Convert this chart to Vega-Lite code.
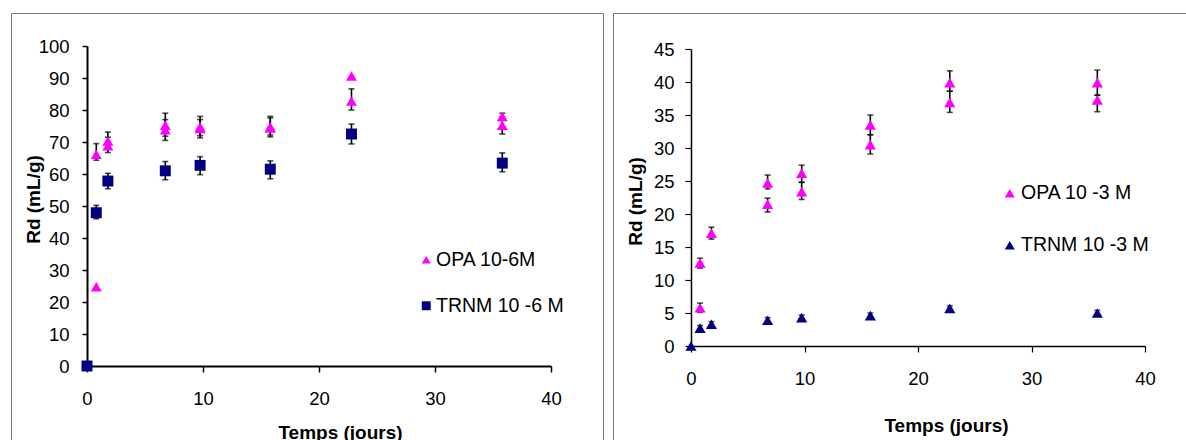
{
  "$schema": "https://vega.github.io/schema/vega-lite/v6.json",
  "padding": {"left": 10, "top": 12, "right": 0, "bottom": 0},
  "background": "white",
  "spacing": 8,
  "config": {
    "view": {"stroke": "#7a7a7a", "strokeWidth": 1},
    "font": "Liberation Sans",
    "axis": {"grid": false, "labelFlush": false, "labelOverlap": false, "domainColor": "black", "tickColor": "black", "labelColor": "black", "titleColor": "black", "labelFont": "Liberation Sans", "titleFont": "Liberation Sans", "labelFontSize": 18.5, "titleFontSize": 19, "titleFontWeight": "bold"},
    "legend": {"labelFont": "Liberation Sans", "labelFontSize": 19.5, "labelColor": "black", "padding": 0, "symbolStrokeWidth": 0}
  },
  "resolve": {"scale": {"x": "independent", "y": "independent", "color": "independent", "shape": "independent"}, "legend": {"color": "independent", "shape": "independent"}},
  "datasets": {
    "d": [
      {"panel": "L", "series": "OPA 10-6M", "x": 0.8, "y": 24.8, "lo": null, "hi": null},
      {"panel": "L", "series": "OPA 10-6M", "x": 0.8, "y": 66.2, "lo": 64.3, "hi": 69.5},
      {"panel": "L", "series": "OPA 10-6M", "x": 1.8, "y": 70.3, "lo": 68.0, "hi": 73.1},
      {"panel": "L", "series": "OPA 10-6M", "x": 1.8, "y": 68.8, "lo": 66.7, "hi": 71.5},
      {"panel": "L", "series": "OPA 10-6M", "x": 6.75, "y": 75.2, "lo": 71.8, "hi": 79.0},
      {"panel": "L", "series": "OPA 10-6M", "x": 6.75, "y": 73.8, "lo": 70.5, "hi": 77.0},
      {"panel": "L", "series": "OPA 10-6M", "x": 9.75, "y": 74.8, "lo": 72.0, "hi": 78.0},
      {"panel": "L", "series": "OPA 10-6M", "x": 9.75, "y": 74.2, "lo": 71.3, "hi": 77.0},
      {"panel": "L", "series": "OPA 10-6M", "x": 15.8, "y": 74.8, "lo": 72.2, "hi": 78.0},
      {"panel": "L", "series": "OPA 10-6M", "x": 15.8, "y": 74.4, "lo": 71.6, "hi": 77.5},
      {"panel": "L", "series": "OPA 10-6M", "x": 22.8, "y": 90.6, "lo": null, "hi": null},
      {"panel": "L", "series": "OPA 10-6M", "x": 22.8, "y": 82.8, "lo": 80.0, "hi": 86.6},
      {"panel": "L", "series": "OPA 10-6M", "x": 35.8, "y": 78.0, "lo": 77.0, "hi": 79.0},
      {"panel": "L", "series": "OPA 10-6M", "x": 35.8, "y": 75.2, "lo": 72.5, "hi": 77.8},
      {"panel": "L", "series": "TRNM 10 -6 M", "x": 0, "y": 0, "lo": null, "hi": null},
      {"panel": "L", "series": "TRNM 10 -6 M", "x": 0.8, "y": 47.9, "lo": 46.0, "hi": 50.2},
      {"panel": "L", "series": "TRNM 10 -6 M", "x": 1.8, "y": 57.8, "lo": 55.4, "hi": 60.2},
      {"panel": "L", "series": "TRNM 10 -6 M", "x": 6.75, "y": 61.0, "lo": 58.2, "hi": 63.9},
      {"panel": "L", "series": "TRNM 10 -6 M", "x": 9.75, "y": 62.7, "lo": 59.8, "hi": 65.4},
      {"panel": "L", "series": "TRNM 10 -6 M", "x": 15.8, "y": 61.5, "lo": 58.5, "hi": 64.1},
      {"panel": "L", "series": "TRNM 10 -6 M", "x": 22.8, "y": 72.5, "lo": 69.4, "hi": 75.6},
      {"panel": "L", "series": "TRNM 10 -6 M", "x": 35.8, "y": 63.4, "lo": 60.7, "hi": 66.6},
      {"panel": "R", "series": "OPA 10 -3 M", "x": 0.8, "y": 12.6, "lo": 11.8, "hi": 13.3},
      {"panel": "R", "series": "OPA 10 -3 M", "x": 0.8, "y": 5.8, "lo": 5.1, "hi": 6.5},
      {"panel": "R", "series": "OPA 10 -3 M", "x": 1.8, "y": 17.1, "lo": 16.2, "hi": 18.0},
      {"panel": "R", "series": "OPA 10 -3 M", "x": 6.75, "y": 24.7, "lo": 23.8, "hi": 25.9},
      {"panel": "R", "series": "OPA 10 -3 M", "x": 6.75, "y": 21.5, "lo": 20.3, "hi": 22.4},
      {"panel": "R", "series": "OPA 10 -3 M", "x": 9.75, "y": 26.2, "lo": 24.8, "hi": 27.4},
      {"panel": "R", "series": "OPA 10 -3 M", "x": 9.75, "y": 23.4, "lo": 22.2, "hi": 24.8},
      {"panel": "R", "series": "OPA 10 -3 M", "x": 15.8, "y": 33.5, "lo": 32.0, "hi": 35.0},
      {"panel": "R", "series": "OPA 10 -3 M", "x": 15.8, "y": 30.5, "lo": 29.1, "hi": 32.0},
      {"panel": "R", "series": "OPA 10 -3 M", "x": 22.8, "y": 39.9, "lo": 38.6, "hi": 41.7},
      {"panel": "R", "series": "OPA 10 -3 M", "x": 22.8, "y": 36.9, "lo": 35.4, "hi": 38.6},
      {"panel": "R", "series": "OPA 10 -3 M", "x": 35.8, "y": 39.9, "lo": 38.0, "hi": 41.8},
      {"panel": "R", "series": "OPA 10 -3 M", "x": 35.8, "y": 37.3, "lo": 35.5, "hi": 38.0},
      {"panel": "R", "series": "TRNM 10 -3 M", "x": 0, "y": 0, "lo": null, "hi": null},
      {"panel": "R", "series": "TRNM 10 -3 M", "x": 0.8, "y": 2.7, "lo": 2.3, "hi": 3.1},
      {"panel": "R", "series": "TRNM 10 -3 M", "x": 1.8, "y": 3.3, "lo": 2.9, "hi": 3.7},
      {"panel": "R", "series": "TRNM 10 -3 M", "x": 6.75, "y": 3.9, "lo": 3.5, "hi": 4.3},
      {"panel": "R", "series": "TRNM 10 -3 M", "x": 9.75, "y": 4.3, "lo": 3.9, "hi": 4.7},
      {"panel": "R", "series": "TRNM 10 -3 M", "x": 15.8, "y": 4.6, "lo": 4.2, "hi": 5.0},
      {"panel": "R", "series": "TRNM 10 -3 M", "x": 22.8, "y": 5.7, "lo": 5.3, "hi": 6.1},
      {"panel": "R", "series": "TRNM 10 -3 M", "x": 35.8, "y": 5.0, "lo": 4.6, "hi": 5.4}
    ]
  },
  "hconcat": [
    {
      "width": 592,
      "height": 440,
      "data": {"name": "d"},
      "transform": [{"filter": "datum.panel === 'L'"}],
      "encoding": {
        "x": {"field": "x", "type": "quantitative", "title": "Temps (jours)",
          "scale": {"domain": [0, 40], "range": [76, 540], "nice": false, "zero": false},
          "axis": {"values": [0, 10, 20, 30, 40], "offset": -87, "domainWidth": 2, "tickWidth": 1.5, "tickSize": 6, "labelPadding": 17, "titleX": 329, "titleY": 57, "titleBaseline": "top"}}
      },
      "layer": [
        {
          "transform": [{"filter": "datum.lo != null"}],
          "mark": {"type": "rule", "color": "black", "strokeWidth": 1.6},
          "encoding": {
            "y": {"field": "lo", "type": "quantitative", "title": "Rd (mL/g)",
              "scale": {"domain": [0, 100], "range": [353, 33], "nice": false, "zero": false},
              "axis": {"values": [0, 10, 20, 30, 40, 50, 60, 70, 80, 90, 100], "offset": -76, "domainWidth": 2, "tickWidth": 1.5, "tickSize": 5, "labelPadding": 13, "titleX": -44, "titleY": 186}},
            "y2": {"field": "hi"}
          }
        },
        {
          "transform": [{"filter": "datum.lo != null"}],
          "mark": {"type": "tick", "orient": "horizontal", "color": "black", "size": 6, "thickness": 1.6},
          "encoding": {
            "y": {"field": "lo", "type": "quantitative", "title": "Rd (mL/g)",
              "scale": {"domain": [0, 100], "range": [353, 33], "nice": false, "zero": false},
              "axis": {"values": [0, 10, 20, 30, 40, 50, 60, 70, 80, 90, 100], "offset": -76, "domainWidth": 2, "tickWidth": 1.5, "tickSize": 5, "labelPadding": 13, "titleX": -44, "titleY": 186}}
          }
        },
        {
          "transform": [{"filter": "datum.lo != null"}],
          "mark": {"type": "tick", "orient": "horizontal", "color": "black", "size": 6, "thickness": 1.6},
          "encoding": {
            "y": {"field": "hi", "type": "quantitative", "title": "Rd (mL/g)",
              "scale": {"domain": [0, 100], "range": [353, 33], "nice": false, "zero": false},
              "axis": {"values": [0, 10, 20, 30, 40, 50, 60, 70, 80, 90, 100], "offset": -76, "domainWidth": 2, "tickWidth": 1.5, "tickSize": 5, "labelPadding": 13, "titleX": -44, "titleY": 186}}
          }
        },
        {
          "mark": {"type": "point", "filled": true, "opacity": 1, "size": 120},
          "encoding": {
            "y": {"field": "y", "type": "quantitative", "title": "Rd (mL/g)",
              "scale": {"domain": [0, 100], "range": [353, 33], "nice": false, "zero": false},
              "axis": {"values": [0, 10, 20, 30, 40, 50, 60, 70, 80, 90, 100], "offset": -76, "domainWidth": 2, "tickWidth": 1.5, "tickSize": 5, "labelPadding": 13, "titleX": -44, "titleY": 186}},
            "color": {"field": "series", "type": "nominal", "sort": ["OPA 10-6M", "TRNM 10 -6 M"],
              "scale": {"domain": ["OPA 10-6M", "TRNM 10 -6 M"], "range": ["#ff00ff", "#000080"]},
              "legend": {"orient": "none", "legendX": 405.5, "legendY": 237, "title": null, "symbolSize": 80, "labelOffset": 0, "rowPadding": 25}},
            "shape": {"field": "series", "type": "nominal", "sort": ["OPA 10-6M", "TRNM 10 -6 M"],
              "scale": {"domain": ["OPA 10-6M", "TRNM 10 -6 M"], "range": ["triangle-up", "square"]},
              "legend": {"orient": "none", "legendX": 405.5, "legendY": 237, "title": null, "symbolSize": 80, "labelOffset": 0, "rowPadding": 25}}
          }
        }
      ]
    },
    {
      "width": 586,
      "height": 440,
      "data": {"name": "d"},
      "transform": [{"filter": "datum.panel === 'R'"}],
      "encoding": {
        "x": {"field": "x", "type": "quantitative", "title": "Temps (jours)",
          "scale": {"domain": [0, 40], "range": [78, 532], "nice": false, "zero": false},
          "axis": {"values": [0, 10, 20, 30, 40], "offset": -107, "domainWidth": 1.5, "tickWidth": 1.2, "tickSize": 6, "labelPadding": 17, "titleX": 333, "titleY": 70, "titleBaseline": "top"}}
      },
      "layer": [
        {
          "transform": [{"filter": "datum.lo != null"}],
          "mark": {"type": "rule", "color": "black", "strokeWidth": 1.6},
          "encoding": {
            "y": {"field": "lo", "type": "quantitative", "title": "Rd (mL/g)",
              "scale": {"domain": [0, 45], "range": [333, 36], "nice": false, "zero": false},
              "axis": {"values": [0, 5, 10, 15, 20, 25, 30, 35, 40, 45], "offset": -78, "domainWidth": 1.5, "tickWidth": 1.2, "tickSize": 6, "labelPadding": 11, "titleX": -46, "titleY": 188}},
            "y2": {"field": "hi"}
          }
        },
        {
          "transform": [{"filter": "datum.lo != null"}],
          "mark": {"type": "tick", "orient": "horizontal", "color": "black", "size": 6, "thickness": 1.6},
          "encoding": {
            "y": {"field": "lo", "type": "quantitative", "title": "Rd (mL/g)",
              "scale": {"domain": [0, 45], "range": [333, 36], "nice": false, "zero": false},
              "axis": {"values": [0, 5, 10, 15, 20, 25, 30, 35, 40, 45], "offset": -78, "domainWidth": 1.5, "tickWidth": 1.2, "tickSize": 6, "labelPadding": 11, "titleX": -46, "titleY": 188}}
          }
        },
        {
          "transform": [{"filter": "datum.lo != null"}],
          "mark": {"type": "tick", "orient": "horizontal", "color": "black", "size": 6, "thickness": 1.6},
          "encoding": {
            "y": {"field": "hi", "type": "quantitative", "title": "Rd (mL/g)",
              "scale": {"domain": [0, 45], "range": [333, 36], "nice": false, "zero": false},
              "axis": {"values": [0, 5, 10, 15, 20, 25, 30, 35, 40, 45], "offset": -78, "domainWidth": 1.5, "tickWidth": 1.2, "tickSize": 6, "labelPadding": 11, "titleX": -46, "titleY": 188}}
          }
        },
        {
          "mark": {"type": "point", "filled": true, "opacity": 1, "size": 125},
          "encoding": {
            "y": {"field": "y", "type": "quantitative", "title": "Rd (mL/g)",
              "scale": {"domain": [0, 45], "range": [333, 36], "nice": false, "zero": false},
              "axis": {"values": [0, 5, 10, 15, 20, 25, 30, 35, 40, 45], "offset": -78, "domainWidth": 1.5, "tickWidth": 1.2, "tickSize": 6, "labelPadding": 11, "titleX": -46, "titleY": 188}},
            "color": {"field": "series", "type": "nominal", "sort": ["OPA 10 -3 M", "TRNM 10 -3 M"],
              "scale": {"domain": ["OPA 10 -3 M", "TRNM 10 -3 M"], "range": ["#ff00ff", "#000080"]},
              "legend": {"orient": "none", "legendX": 387, "legendY": 170.5, "title": null, "symbolSize": 100, "labelOffset": 1.5, "rowPadding": 31}},
            "shape": {"field": "series", "type": "nominal", "sort": ["OPA 10 -3 M", "TRNM 10 -3 M"],
              "scale": {"domain": ["OPA 10 -3 M", "TRNM 10 -3 M"], "range": ["triangle-up", "triangle-up"]},
              "legend": {"orient": "none", "legendX": 387, "legendY": 170.5, "title": null, "symbolSize": 100, "labelOffset": 1.5, "rowPadding": 31}}
          }
        }
      ]
    }
  ]
}
